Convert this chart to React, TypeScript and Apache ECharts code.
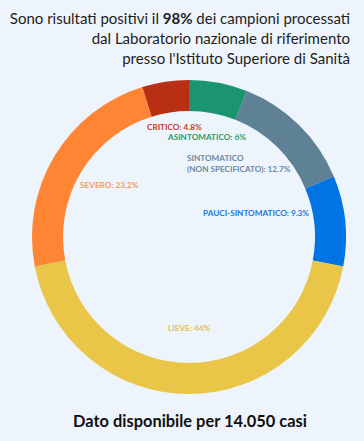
import React, { useEffect, useRef } from "react";
import * as echarts from "echarts";

const CATEGORIES = [
  "ASINTOMATICO",
  "SINTOMATICO\n(NON SPECIFICATO)",
  "PAUCI-SINTOMATICO",
  "LIEVE",
  "SEVERO",
  "CRITICO",
];
const VALUES = [6, 12.7, 9.3, 44, 23.2, 4.8];
const VALUE_TEXT = ["6%", "12.7%", "9.3%", "44%", "23,2%", "4.8%"];
const SLICE_COLORS = ["#1b9470", "#5f8195", "#0074e4", "#e9c548", "#fd8533", "#b92f14"];
const LABEL_COLORS = ["#2a9b6c", "#6a8aa1", "#1a78e0", "#e6c24a", "#f7995a", "#c23a1c"];
const LABEL_POS = [
  [168, 137],
  [187, 163],
  [203, 213],
  [168, 328],
  [80, 185],
  [147, 127],
];
const TITLE_LINES = [
  "Sono risultati positivi il {b|98%} dei campioni processati",
  "dal Laboratorio nazionale di riferimento",
  "presso l'Istituto Superiore di Sanità",
];
const FOOTER = "Dato disponibile per 14.050 casi";

const FONT = "Lato";

export default function App() {
  const ref = useRef<HTMLDivElement>(null);
  useEffect(() => {
    document.body.style.margin = "0";
    const chart = echarts.init(ref.current!, null, { renderer: "svg" });
    chart.setOption({
      animation: false,
      backgroundColor: "#eef4fb",
      graphic: [
        {
          type: "text",
          x: 350,
          y: 8,
          style: {
            text: TITLE_LINES.join("\n"),
            align: "right",
            verticalAlign: "top",
            fontFamily: FONT,
            fontSize: 15,
            lineHeight: 20,
            fill: "#1e1e1e",
            rich: {
              b: { fontFamily: FONT, fontSize: 15, fontWeight: "bold", lineHeight: 20, fill: "#1e1e1e" },
            },
          },
        },
        {
          type: "text",
          x: 190,
          y: 420,
          style: {
            text: FOOTER,
            align: "center",
            verticalAlign: "middle",
            fontFamily: FONT,
            fontSize: 16.4,
            fontWeight: "bold",
            fill: "#111",
          },
        },
      ],
      series: [
        {
          type: "pie",
          center: [189, 237],
          radius: [126, 157],
          startAngle: 90,
          clockwise: true,
          silent: true,
          avoidLabelOverlap: false,
          labelLine: { show: false },
          label: {
            show: true,
            position: "inside",
            rotate: 0,
            overflow: "none",
            fontFamily: FONT,
            fontSize: 8.2,
            fontWeight: "bold",
            lineHeight: 11,
            align: "left",
            formatter: (p: any) => `${p.name}: ${VALUE_TEXT[p.dataIndex]}`,
          },
          labelLayout: (p: any) => ({
            x: LABEL_POS[p.dataIndex][0],
            y: LABEL_POS[p.dataIndex][1],
            align: "left",
            verticalAlign: "middle",
          }),
          data: CATEGORIES.map((name, i) => ({
            name,
            value: VALUES[i],
            itemStyle: { color: SLICE_COLORS[i] },
            label: { color: LABEL_COLORS[i] },
          })),
        },
      ],
    });
    return () => chart.dispose();
  }, []);
  return <div ref={ref} style={{ position: "absolute", left: 0, top: 0, width: 364, height: 441 }} />;
}
